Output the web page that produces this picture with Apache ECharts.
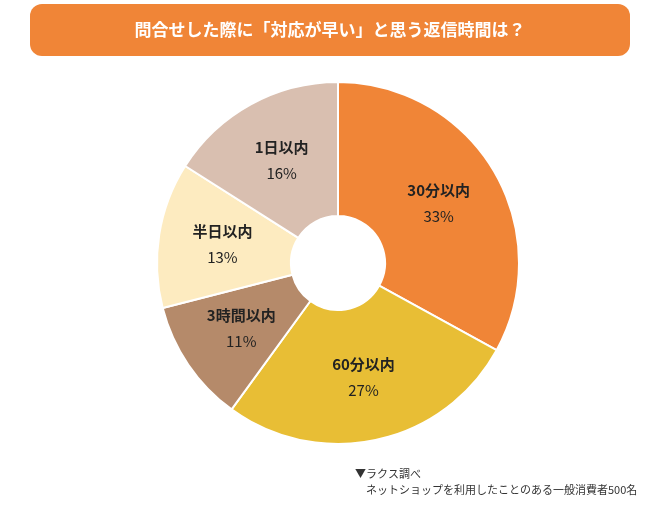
<!DOCTYPE html>
<html>
<head>
<meta charset="UTF-8">
<script src="https://cdn.jsdelivr.net/npm/echarts@6/dist/echarts.min.js"></script>
<style>
  html, body { margin: 0; padding: 0; background: #fff; }
  #chart { width: 650px; height: 507px; }
</style>
</head>
<body>
<div id="chart"></div>
<script>
var categories = ['30分以内', '60分以内', '3時間以内', '半日以内', '1日以内'];
var values = [33, 27, 11, 13, 16];
var colors = ['#F08537', '#E8BE35', '#B58A6A', '#FDEBC0', '#D9BFB0'];

var chart = echarts.init(document.getElementById('chart'));
var font = '"Noto Sans CJK JP", "Noto Sans", sans-serif';

var data = categories.map(function (c, i) {
  return { name: c, value: values[i], itemStyle: { color: colors[i] } };
});

chart.setOption({
  animation: false,
  graphic: [
    {
      type: 'rect',
      shape: { x: 30, y: 4, width: 600, height: 52, r: 12 },
      style: { fill: '#F08537' }
    },
    {
      type: 'text',
      x: 330, y: 30,
      style: {
        text: '問合せした際に「対応が早い」と思う返信時間は？',
        fill: '#fff', font: 'bold 17px ' + font,
        textAlign: 'center', textVerticalAlign: 'middle'
      }
    },
    {
      type: 'text',
      x: 355, y: 466,
      style: {
        text: '▼ラクス調べ\n　ネットショップを利用したことのある一般消費者500名',
        fill: '#333', font: '11px ' + font, lineHeight: 16
      }
    }
  ],
  series: [{
    type: 'pie',
    center: [338, 263],
    radius: [47, 181],
    startAngle: 90,
    clockwise: true,
    itemStyle: { borderColor: '#fff', borderWidth: 2 },
    label: {
      position: 'inside',
      formatter: function (p) { return '{n|' + p.name + '}\n{v|' + p.value + '%}'; },
      rich: {
        n: { fontFamily: font, fontWeight: 'bold', fontSize: 15, color: '#222', lineHeight: 26 },
        v: { fontFamily: font, fontSize: 15, color: '#222', lineHeight: 26 }
      }
    },
    labelLine: { show: false },
    data: data
  }]
});
</script>
</body>
</html>
